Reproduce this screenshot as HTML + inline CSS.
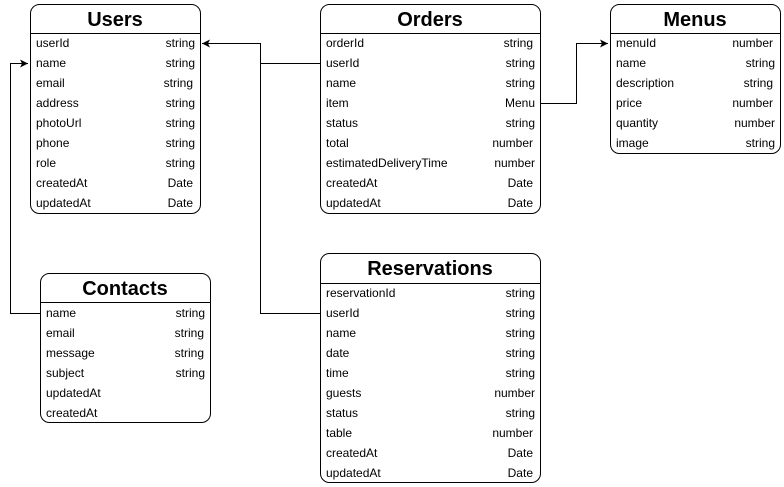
<!DOCTYPE html>
<html><head><meta charset="utf-8"><style>
html,body{margin:0;padding:0;background:#fff;}
svg{display:block;font-family:"Liberation Sans",Arial,sans-serif;}
.t{font-size:20px;font-weight:bold;text-anchor:middle;}
.r{font-size:12px;}
.e{font-size:12px;text-anchor:end;}
</style></head><body>
<svg width="784" height="487" viewBox="0 0 784 487" xmlns="http://www.w3.org/2000/svg">
<defs><marker id="a" markerWidth="10" markerHeight="10" refX="8" refY="4" orient="auto" markerUnits="userSpaceOnUse"><path d="M0,0 L8,4 L0,8 L2,4 Z" fill="#000"/></marker></defs>
<g fill="none" stroke="#000" stroke-width="1">
<path d="M320.5,63.5 H260.5 V43.5 H202" marker-end="url(#a)"/>
<path d="M320.5,313.5 H260.5 V43.5"/>
<path d="M540.5,103.5 H576.5 V43.5 H608" marker-end="url(#a)"/>
<path d="M40.5,313.5 H10.5 V63.5 H28" marker-end="url(#a)"/>
</g>
<g id="tables" fill="none" stroke="#000" stroke-width="1">
<rect x="30.5" y="4.5" width="170" height="209" rx="9"/><line x1="30.5" y1="33.5" x2="200.5" y2="33.5"/>
<rect x="320.5" y="4.5" width="220" height="209" rx="9"/><line x1="320.5" y1="33.5" x2="540.5" y2="33.5"/>
<rect x="610.5" y="4.5" width="170" height="149" rx="9"/><line x1="610.5" y1="33.5" x2="780.5" y2="33.5"/>
<rect x="40.5" y="273.5" width="170" height="149" rx="9"/><line x1="40.5" y1="302.5" x2="210.5" y2="302.5"/>
<rect x="320.5" y="253.5" width="220" height="229" rx="9"/><line x1="320.5" y1="283.5" x2="540.5" y2="283.5"/>
</g>
<g fill="#000">
<text class="t" x="115" y="26">Users</text>
<text class="r" x="36" y="47">userId</text><text class="e" x="195" y="47">string</text>
<text class="r" x="36" y="67">name</text><text class="e" x="195" y="67">string</text>
<text class="r" x="36" y="87">email</text><text class="e" x="193" y="87">string</text>
<text class="r" x="36" y="107">address</text><text class="e" x="195" y="107">string</text>
<text class="r" x="36" y="127">photoUrl</text><text class="e" x="195" y="127">string</text>
<text class="r" x="36" y="147">phone</text><text class="e" x="195" y="147">string</text>
<text class="r" x="36" y="167">role</text><text class="e" x="195" y="167">string</text>
<text class="r" x="36" y="187">createdAt</text><text class="e" x="193" y="187">Date</text>
<text class="r" x="36" y="207">updatedAt</text><text class="e" x="193" y="207">Date</text>

<text class="t" x="430" y="26">Orders</text>
<text class="r" x="326" y="47">orderId</text><text class="e" x="533" y="47">string</text>
<text class="r" x="326" y="67">userId</text><text class="e" x="535" y="67">string</text>
<text class="r" x="326" y="87">name</text><text class="e" x="535" y="87">string</text>
<text class="r" x="326" y="107">item</text><text class="e" x="535" y="107">Menu</text>
<text class="r" x="326" y="127">status</text><text class="e" x="535" y="127">string</text>
<text class="r" x="326" y="147">total</text><text class="e" x="533" y="147">number</text>
<text class="r" x="326" y="167">estimatedDeliveryTime</text><text class="e" x="535" y="167">number</text>
<text class="r" x="326" y="187">createdAt</text><text class="e" x="533" y="187">Date</text>
<text class="r" x="326" y="207">updatedAt</text><text class="e" x="533" y="207">Date</text>

<text class="t" x="695" y="26">Menus</text>
<text class="r" x="616" y="47">menuId</text><text class="e" x="773" y="47">number</text>
<text class="r" x="616" y="67">name</text><text class="e" x="775" y="67">string</text>
<text class="r" x="616" y="87">description</text><text class="e" x="773" y="87">string</text>
<text class="r" x="616" y="107">price</text><text class="e" x="773" y="107">number</text>
<text class="r" x="616" y="127">quantity</text><text class="e" x="775" y="127">number</text>
<text class="r" x="616" y="147">image</text><text class="e" x="775" y="147">string</text>

<text class="t" x="125" y="295">Contacts</text>
<text class="r" x="46" y="317">name</text><text class="e" x="205" y="317">string</text>
<text class="r" x="46" y="337">email</text><text class="e" x="204" y="337">string</text>
<text class="r" x="46" y="357">message</text><text class="e" x="204" y="357">string</text>
<text class="r" x="46" y="377">subject</text><text class="e" x="205" y="377">string</text>
<text class="r" x="46" y="397">updatedAt</text>
<text class="r" x="46" y="417">createdAt</text>

<text class="t" x="430" y="275">Reservations</text>
<text class="r" x="326" y="297">reservationId</text><text class="e" x="535" y="297">string</text>
<text class="r" x="326" y="317">userId</text><text class="e" x="535" y="317">string</text>
<text class="r" x="326" y="337">name</text><text class="e" x="535" y="337">string</text>
<text class="r" x="326" y="357">date</text><text class="e" x="535" y="357">string</text>
<text class="r" x="326" y="377">time</text><text class="e" x="535" y="377">string</text>
<text class="r" x="326" y="397">guests</text><text class="e" x="535" y="397">number</text>
<text class="r" x="326" y="417">status</text><text class="e" x="535" y="417">string</text>
<text class="r" x="326" y="437">table</text><text class="e" x="533" y="437">number</text>
<text class="r" x="326" y="457">createdAt</text><text class="e" x="533" y="457">Date</text>
<text class="r" x="326" y="477">updatedAt</text><text class="e" x="533" y="477">Date</text>
</g>
</svg>
</body></html>
